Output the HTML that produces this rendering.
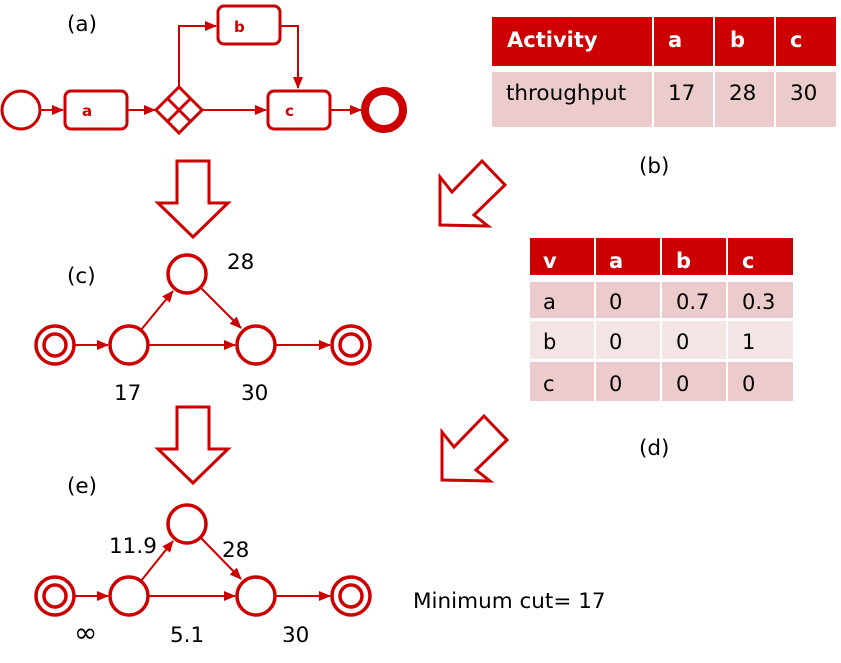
<!DOCTYPE html>
<html><head><meta charset="utf-8"><style>
body{margin:0;background:#fff}
svg{display:block}
text{font-family:"DejaVu Sans","Liberation Sans",sans-serif}
.lb{font-size:21.5px;fill:#000}
.tb{font-size:21.5px;fill:#000}
.th{font-size:21px;fill:#fff;font-weight:bold}
.td{font-size:21px;fill:#000}
.bx{font-size:15px;fill:#cc0000;font-weight:bold}
</style></head><body>
<svg width="841" height="663" viewBox="0 0 841 663" xmlns="http://www.w3.org/2000/svg">
<defs>
<marker id="ar" markerWidth="12" markerHeight="10" refX="11" refY="5" orient="auto" markerUnits="userSpaceOnUse"><path d="M0,0 L12,5 L0,10z" fill="#cc0000"/></marker>
</defs>
<g fill="none" stroke="#cc0000">
<circle cx="21" cy="110" r="19" stroke-width="3"/>
<line x1="40" y1="110" x2="63" y2="110" stroke-width="2" marker-end="url(#ar)"/>
<rect x="65" y="91" width="62" height="38" rx="6" stroke-width="3"/>
<line x1="128" y1="110" x2="155" y2="110" stroke-width="2" marker-end="url(#ar)"/>
<path d="M179,87 L202,110 L179,133 L156,110Z M167.5,98.5 L190.5,121.5 M190.5,98.5 L167.5,121.5" stroke-width="3"/>
<line x1="202" y1="110" x2="266" y2="110" stroke-width="2" marker-end="url(#ar)"/>
<path d="M179,87 V26 H216" stroke-width="2" marker-end="url(#ar)"/>
<rect x="218" y="6" width="62" height="38" rx="6" stroke-width="3"/>
<path d="M280,26 H298 V88" stroke-width="2" marker-end="url(#ar)"/>
<rect x="268" y="91" width="62" height="38" rx="6" stroke-width="3"/>
<line x1="331" y1="110" x2="361" y2="110" stroke-width="2" marker-end="url(#ar)"/>
<circle cx="384" cy="110" r="19" stroke-width="8"/>
<path d="M177,161 H209 V203 H228 L193,237 L158,203 H177Z" stroke-width="3"/>
<path d="M177,407 H209 V449 H228 L193,483 L158,449 H177Z" stroke-width="3"/>
<path d="M440,225 L440,177 L452,192 L482,161 L505,185 L474,215 L488,226Z" stroke-width="3"/>
<path d="M442,480 L442,432 L454,447 L484,416 L507,440 L476,470 L490,481Z" stroke-width="3"/>
<g stroke-width="3.5">
<circle cx="55" cy="345" r="19"/><circle cx="55" cy="345" r="11"/>
<circle cx="129" cy="345" r="19"/>
<circle cx="187" cy="274" r="19"/>
<circle cx="256" cy="345" r="19"/>
<circle cx="351" cy="345" r="19"/><circle cx="351" cy="345" r="11"/>
</g>
<g stroke-width="2">
<line x1="74" y1="345" x2="108" y2="345" marker-end="url(#ar)"/>
<line x1="148" y1="345" x2="235" y2="345" marker-end="url(#ar)"/>
<line x1="141" y1="330" x2="173" y2="291" marker-end="url(#ar)"/>
<line x1="201" y1="288" x2="241" y2="328" marker-end="url(#ar)"/>
<line x1="275" y1="345" x2="330" y2="345" marker-end="url(#ar)"/>
</g>
<g stroke-width="3.5">
<circle cx="55" cy="596" r="19"/><circle cx="55" cy="596" r="11"/>
<circle cx="129" cy="596" r="19"/>
<circle cx="187" cy="524" r="19"/>
<circle cx="256" cy="596" r="19"/>
<circle cx="351" cy="596" r="19"/><circle cx="351" cy="596" r="11"/>
</g>
<g stroke-width="2">
<line x1="74" y1="596" x2="108" y2="596" marker-end="url(#ar)"/>
<line x1="148" y1="596" x2="235" y2="596" marker-end="url(#ar)"/>
<line x1="141" y1="581" x2="173" y2="541" marker-end="url(#ar)"/>
<line x1="201" y1="538" x2="241" y2="579" marker-end="url(#ar)"/>
<line x1="275" y1="596" x2="330" y2="596" marker-end="url(#ar)"/>
</g>
</g>
<text class="bx" x="82" y="116">a</text><text class="bx" x="234" y="32">b</text><text class="bx" x="285" y="116">c</text>
<rect x="492" y="17" width="160" height="49" fill="#cc0000"/>
<rect x="654" y="17" width="59" height="49" fill="#cc0000"/>
<rect x="715" y="17" width="59" height="49" fill="#cc0000"/>
<rect x="776" y="17" width="60" height="49" fill="#cc0000"/>
<rect x="492" y="72" width="160" height="55" fill="#ebcbcb"/>
<rect x="654" y="72" width="59" height="55" fill="#ebcbcb"/>
<rect x="715" y="72" width="59" height="55" fill="#ebcbcb"/>
<rect x="776" y="72" width="60" height="55" fill="#ebcbcb"/>
<text class="th" x="507" y="47">Activity</text><text class="th" x="668" y="47">a</text><text class="th" x="730" y="47">b</text><text class="th" x="790" y="47">c</text>
<text class="tb" x="506" y="100">throughput</text><text class="tb" x="668" y="100">17</text><text class="tb" x="729" y="100">28</text><text class="tb" x="790" y="100">30</text>
<rect x="530" y="238" width="64" height="37" fill="#cc0000"/>
<rect x="596" y="238" width="64" height="37" fill="#cc0000"/>
<rect x="662" y="238" width="64" height="37" fill="#cc0000"/>
<rect x="728" y="238" width="65" height="37" fill="#cc0000"/>
<g fill="#ebcbcb">
<rect x="530" y="282" width="64" height="36"/><rect x="596" y="282" width="64" height="36"/><rect x="662" y="282" width="64" height="36"/><rect x="728" y="282" width="65" height="36"/>
<rect x="530" y="362" width="64" height="39"/><rect x="596" y="362" width="64" height="39"/><rect x="662" y="362" width="64" height="39"/><rect x="728" y="362" width="65" height="39"/>
</g>
<g fill="#f4e5e5">
<rect x="530" y="321" width="64" height="38"/><rect x="596" y="321" width="64" height="38"/><rect x="662" y="321" width="64" height="38"/><rect x="728" y="321" width="65" height="38"/>
</g>
<text class="th" x="543" y="268">v</text><text class="th" x="609" y="268">a</text><text class="th" x="676" y="268">b</text><text class="th" x="742" y="268">c</text>
<text class="td" x="543" y="309">a</text><text class="td" x="609" y="309">0</text><text class="td" x="676" y="309">0.7</text><text class="td" x="742" y="309">0.3</text>
<text class="td" x="543" y="349">b</text><text class="td" x="609" y="349">0</text><text class="td" x="676" y="349">0</text><text class="td" x="742" y="349">1</text>
<text class="td" x="543" y="391">c</text><text class="td" x="609" y="391">0</text><text class="td" x="676" y="391">0</text><text class="td" x="742" y="391">0</text>
<text class="lb" x="67" y="31">(a)</text>
<text class="lb" x="639" y="173">(b)</text>
<text class="lb" x="67" y="283">(c)</text>
<text class="lb" x="639" y="455">(d)</text>
<text class="lb" x="67" y="493">(e)</text>
<text class="lb" x="227" y="269">28</text>
<text class="lb" x="114" y="400">17</text>
<text class="lb" x="241" y="400">30</text>
<text class="lb" x="109" y="553">11.9</text>
<text class="lb" x="222" y="557">28</text>
<text class="lb" x="74" y="642" style="font-size:28px">∞</text>
<text class="lb" x="170" y="642">5.1</text>
<text class="lb" x="282" y="642">30</text>
<text class="lb" x="413" y="608">Minimum cut= 17</text>
</svg>
</body></html>
